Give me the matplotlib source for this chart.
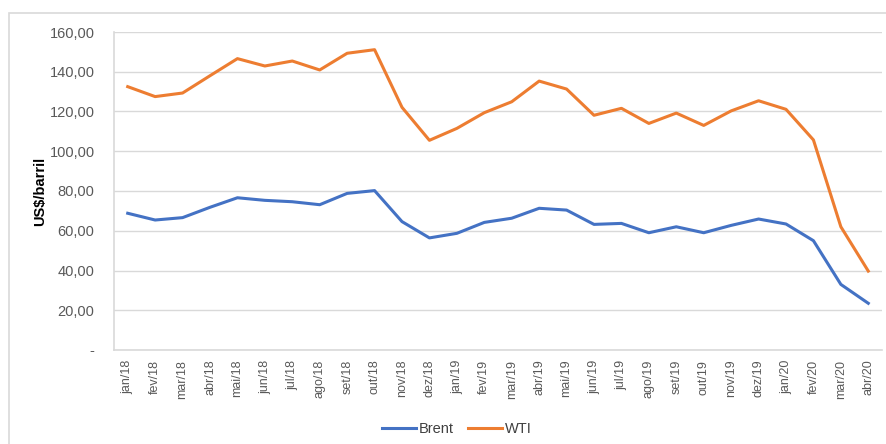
import matplotlib.pyplot as plt
from matplotlib.patches import Rectangle

months = ['jan/18', 'fev/18', 'mar/18', 'abr/18', 'mai/18', 'jun/18', 'jul/18',
          'ago/18', 'set/18', 'out/18', 'nov/18', 'dez/18', 'jan/19', 'fev/19',
          'mar/19', 'abr/19', 'mai/19', 'jun/19', 'jul/19', 'ago/19', 'set/19',
          'out/19', 'nov/19', 'dez/19', 'jan/20', 'fev/20', 'mar/20', 'abr/20']

brent = [68.8, 65.4, 66.6, 71.8, 76.6, 75.3, 74.6, 73.1, 78.8, 80.2, 64.6, 56.4,
         58.7, 64.2, 66.3, 71.3, 70.4, 63.2, 63.7, 59.0, 62.0, 59.0, 62.7, 65.9,
         63.4, 55.0, 33.0, 23.5]

wti = [132.5, 127.5, 129.3, 138.0, 146.6, 142.9, 145.4, 140.9, 149.3, 151.1, 122.1, 105.5,
       111.5, 119.4, 124.9, 135.3, 131.3, 118.1, 121.6, 114.0, 119.2, 113.0, 120.3, 125.4,
       121.1, 105.7, 62.0, 39.7]

yticks = [0, 20, 40, 60, 80, 100, 120, 140, 160]
ylabels = ['-' if v == 0 else f'{v},00' for v in yticks]

plt.rcParams['font.family'] = ['Liberation Sans', 'DejaVu Sans']

fig = plt.figure(figsize=(8.86, 4.44), dpi=100)
# chart frame, only its top and left edges fall inside the image
fig.patches.append(Rectangle((8.5 / 886, -20 / 444), 900 / 886, 451 / 444,
                             transform=fig.transFigure, fill=False,
                             edgecolor='#d9d9d9', linewidth=1.2))

ax = fig.add_axes([114 / 886, 94 / 444, 768 / 886, 318 / 444])
x = range(len(months))
ax.plot(x, brent, color='#4472c4', linewidth=2.2, label='Brent')
ax.plot(x, wti, color='#ed7d31', linewidth=2.2, label='WTI')

ax.set_xlim(-0.5, len(months) - 0.5)
ax.set_ylim(0, 160)
ax.set_yticks(yticks)
ax.set_yticklabels(ylabels)
ax.set_xticks(list(x))
ax.set_xticklabels(months, rotation=90)
ax.tick_params(axis='y', length=0, pad=14, labelsize=10.5, labelcolor='#595959')
ax.tick_params(axis='x', length=0, pad=7, labelsize=9, labelcolor='#595959')
ax.grid(axis='y', color='#d9d9d9', linewidth=1)
ax.set_axisbelow(True)
for side in ['top', 'right']:
    ax.spines[side].set_visible(False)
for side in ['left', 'bottom']:
    ax.spines[side].set_color('#d9d9d9')
    ax.spines[side].set_linewidth(1.2)

ax.set_ylabel('US$/barril', fontsize=10.5, fontweight='bold', labelpad=2)

fig.legend(loc='center', bbox_to_anchor=(457 / 886, 1 - 429 / 444), ncol=2,
           frameon=False, fontsize=10.5, handlelength=2.3, columnspacing=1.0,
           handletextpad=0.2, labelcolor='#404040')

fig.savefig('out.png', dpi=100)
